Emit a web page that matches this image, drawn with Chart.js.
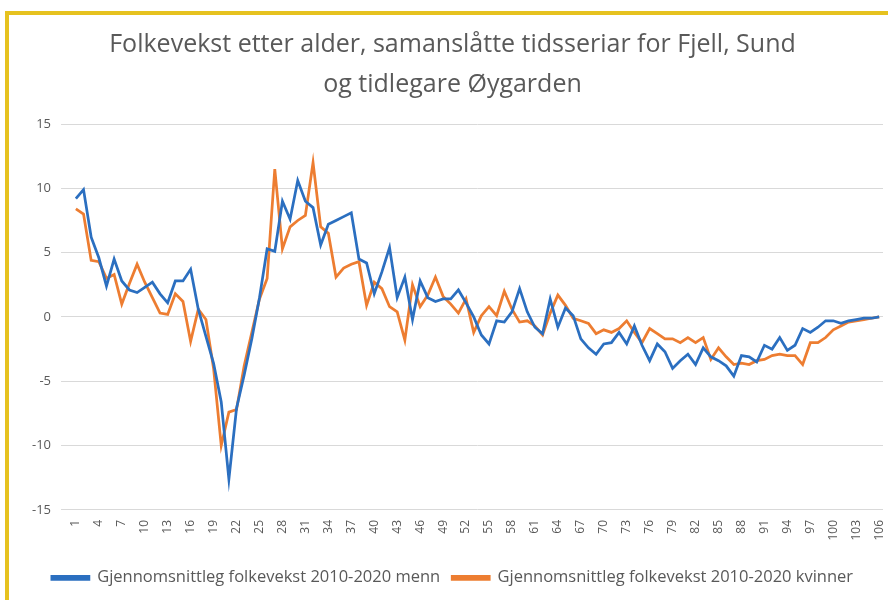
<!DOCTYPE html>
<html lang="no">
<head>
<meta charset="UTF-8">
<title>Folkevekst etter alder</title>
<script src="https://cdn.jsdelivr.net/npm/chart.js"></script>
<style>
    body { margin: 0; background: #fff; }
    #wrap { position: relative; width: 888px; height: 600px; overflow: hidden; }
    /* gul ramme oppe og til venstre */
    #ramme {
        position: absolute; left: 5px; top: 11px; width: 900px; height: 700px;
        border-top: 4px solid #E6C21F; border-left: 4px solid #E6C21F;
        pointer-events: none;
    }
</style>
</head>
<body>
<div id="wrap">
    <canvas id="chart" width="888" height="600"></canvas>
    <div id="ramme"></div>
</div>
<script>
// alder 1..106
var ages = Array.from({ length: 106 }, function (_, i) { return String(i + 1); });

var menn = [
    9.2, 9.9, 6.2, 4.6, 2.4, 4.5, 2.8, 2.1, 1.9, 2.3,
    2.7, 1.8, 1.1, 2.8, 2.8, 3.7, 0.6, -1.5, -3.6, -6.6,
    -12.6, -7.1, -4.5, -1.7, 1.5, 5.3, 5.1, 9.0, 7.6, 10.6,
    9.0, 8.5, 5.6, 7.2, 7.5, 7.8, 8.1, 4.5, 4.2, 1.8,
    3.5, 5.4, 1.5, 3.1, -0.2, 2.8, 1.5, 1.2, 1.4, 1.4,
    2.1, 1.1, 0.0, -1.4, -2.1, -0.3, -0.4, 0.4, 2.2, 0.4,
    -0.8, -1.3, 1.4, -0.8, 0.7, 0.1, -1.7, -2.4, -2.9, -2.1,
    -2.0, -1.2, -2.1, -0.7, -2.2, -3.4, -2.1, -2.7, -4.0, -3.4,
    -2.9, -3.7, -2.4, -3.1, -3.4, -3.8, -4.6, -3.0, -3.1, -3.5,
    -2.2, -2.5, -1.6, -2.6, -2.2, -0.9, -1.2, -0.8, -0.3, -0.3,
    -0.5, -0.3, -0.2, -0.1, -0.1, 0.0
];

var kvinner = [
    8.4, 8.0, 4.4, 4.3, 3.0, 3.3, 1.0, 2.6, 4.1, 2.7,
    1.5, 0.3, 0.2, 1.8, 1.2, -1.9, 0.6, -0.2, -4.0, -10.0,
    -7.4, -7.2, -3.8, -1.2, 1.4, 3.0, 11.5, 5.3, 7.0, 7.5,
    7.9, 12.0, 7.0, 6.5, 3.1, 3.8, 4.1, 4.3, 0.9, 2.7,
    2.2, 0.8, 0.4, -1.8, 2.5, 0.8, 1.7, 3.1, 1.6, 1.0,
    0.3, 1.4, -1.2, 0.1, 0.8, 0.1, 2.0, 0.6, -0.4, -0.3,
    -0.7, -1.4, 0.3, 1.7, 0.9, -0.1, -0.3, -0.5, -1.3, -1.0,
    -1.2, -0.9, -0.3, -1.2, -2.0, -0.9, -1.3, -1.7, -1.7, -2.0,
    -1.6, -2.0, -1.6, -3.3, -2.4, -3.1, -3.7, -3.6, -3.7, -3.4,
    -3.3, -3.0, -2.9, -3.0, -3.0, -3.7, -2.0, -2.0, -1.6, -1.0,
    -0.7, -0.4, -0.3, -0.2, -0.1, 0.0
];

var seriesNames = [
    'Gjennomsnittleg folkevekst 2010-2020 menn',
    'Gjennomsnittleg folkevekst 2010-2020 kvinner'
];
var yTicks = [-15, -10, -5, 0, 5, 10, 15];

var grey = '#595959';
var blue = '#2B6FC0';
var orange = '#ED7D31';

var ctx = document.getElementById('chart').getContext('2d');
new Chart(ctx, {
    type: 'line',
    data: {
        labels: ages,
        datasets: [{
            label: seriesNames[0],
            data: menn,
            borderColor: blue,
            backgroundColor: blue,
            borderWidth: 2.75,
            pointRadius: 0,
            tension: 0
        }, {
            label: seriesNames[1],
            data: kvinner,
            borderColor: orange,
            backgroundColor: orange,
            borderWidth: 2.75,
            pointRadius: 0,
            tension: 0
        }]
    },
    options: {
        responsive: false,
        animation: false,
        layout: { padding: { top: 5, left: 22, right: 5, bottom: 4 } },
        plugins: {
            title: {
                display: true,
                text: ['Folkevekst etter alder, samanslåtte tidsseriar for Fjell, Sund', 'og tidlegare Øygarden'],
                color: grey,
                font: { family: 'Open Sans', size: 25, weight: 'normal', lineHeight: 1.6 },
                padding: { top: 20, bottom: 19 }
            },
            legend: {
                position: 'bottom',
                labels: {
                    color: grey,
                    font: { family: 'Open Sans', size: 16.5 },
                    boxWidth: 37,
                    boxHeight: 3,
                    padding: 12
                }
            },
            tooltip: { enabled: false }
        },
        scales: {
            x: {
                offset: true,
                grid: { display: false },
                border: { display: false },
                afterFit: function (scale) {
                    scale.height += 15;
                    scale.paddingRight = 0;
                },
                ticks: {
                    autoSkip: false,
                    maxRotation: 90,
                    minRotation: 90,
                    padding: 2,
                    color: grey,
                    font: { family: 'Open Sans', size: 12 },
                    callback: function (val, i) {
                        return i % 3 === 0 ? ages[i] : null;
                    }
                }
            },
            y: {
                min: yTicks[0],
                max: yTicks[yTicks.length - 1],
                afterBuildTicks: function (axis) {
                    axis.ticks = yTicks.map(function (v) { return { value: v }; });
                },
                grid: { color: '#D9D9D9', lineWidth: 1, tickLength: 11, drawTicks: true },
                border: { display: false },
                ticks: {
                    color: grey,
                    padding: 10,
                    font: { family: 'Open Sans', size: 13 }
                }
            }
        }
    }
});
</script>
</body>
</html>
